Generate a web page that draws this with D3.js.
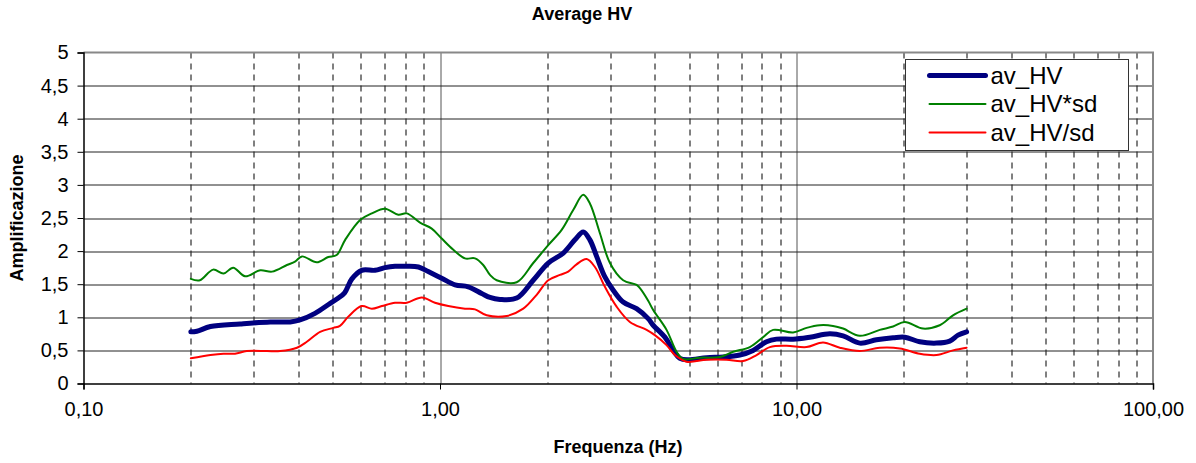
<!DOCTYPE html>
<html>
<head>
<meta charset="utf-8">
<script src="https://cdn.jsdelivr.net/npm/d3@7"></script>
<style>
  body { margin: 0; background: #fff; }
  svg { display: block; font-family: Arial, "Liberation Sans", sans-serif; }
</style>
</head>
<body>
<svg id="chart" width="1196" height="463"></svg>
<script>
// data
var seriesNames = ["av_HV", "av_HV*sd", "av_HV/sd"];
var seriesColors = ["#000080", "#008000", "#ff0000"];

var hvFreq = [0.200,0.208,0.227,0.275,0.334,0.380,0.405,0.446,0.492,0.515,0.540,0.566,0.603,0.657,0.701,0.748,0.798,0.870,0.927,1.011,1.102,1.200,1.309,1.381,1.473,1.641,1.826,2.012,2.217,2.390,2.522,2.633,2.750,2.901,3.061,3.264,3.560,3.837,3.963,4.274,4.510,4.709,4.967,5.595,6.227,6.934,7.556,8.240,8.788,9.783,10.90,12.40,13.51,15.05,16.76,18.66,20.12,22.17,24.69,26.90,28.39,30.0];
var hvVal  = [0.78,0.79,0.86,0.90,0.93,0.93,0.96,1.06,1.21,1.28,1.37,1.58,1.71,1.71,1.75,1.77,1.77,1.76,1.69,1.59,1.49,1.46,1.36,1.30,1.27,1.29,1.56,1.82,1.97,2.17,2.29,2.17,1.92,1.61,1.41,1.23,1.13,0.98,0.88,0.70,0.50,0.38,0.36,0.39,0.40,0.43,0.50,0.63,0.67,0.67,0.70,0.75,0.72,0.61,0.66,0.69,0.70,0.63,0.61,0.64,0.73,0.78];

var hvSdFreq = [0.200,0.212,0.231,0.247,0.263,0.284,0.313,0.338,0.372,0.392,0.410,0.451,0.486,0.513,0.542,0.597,0.644,0.701,0.764,0.807,0.879,0.948,1.011,1.090,1.175,1.254,1.322,1.381,1.442,1.641,1.826,2.012,2.194,2.364,2.522,2.633,2.809,2.997,3.264,3.560,3.637,3.837,3.963,4.320,4.609,4.810,5.358,6.095,6.643,7.397,8.062,8.601,9.783,10.67,11.62,12.66,13.51,15.05,17.12,18.66,20.12,22.64,25.22,27.48,30.0];
var hvSdVal  = [1.58,1.56,1.72,1.66,1.75,1.62,1.71,1.69,1.79,1.84,1.92,1.83,1.91,1.94,2.17,2.47,2.57,2.64,2.55,2.57,2.43,2.34,2.19,2.02,1.89,1.89,1.79,1.64,1.56,1.53,1.82,2.09,2.32,2.62,2.85,2.72,2.27,1.82,1.56,1.49,1.44,1.25,1.11,0.81,0.48,0.37,0.39,0.40,0.48,0.55,0.70,0.81,0.77,0.84,0.88,0.87,0.83,0.72,0.81,0.86,0.93,0.83,0.88,1.03,1.13];

var hvDivFreq = [0.200,0.227,0.247,0.266,0.287,0.327,0.356,0.397,0.423,0.461,0.502,0.524,0.553,0.603,0.644,0.687,0.748,0.807,0.889,0.968,1.055,1.175,1.254,1.352,1.538,1.712,1.867,2.012,2.170,2.289,2.416,2.578,2.720,2.901,3.129,3.409,3.798,4.006,4.320,4.560,4.915,5.595,6.364,7.084,7.726,8.417,9.376,10.67,11.87,13.23,15.05,17.12,19.49,22.17,24.69,27.48,30.0];
var hvDivVal  = [0.38,0.43,0.45,0.45,0.49,0.49,0.49,0.54,0.63,0.78,0.84,0.87,1.01,1.17,1.13,1.17,1.22,1.22,1.30,1.22,1.17,1.13,1.12,1.03,1.02,1.13,1.34,1.56,1.64,1.69,1.80,1.88,1.76,1.46,1.16,0.93,0.81,0.73,0.58,0.43,0.33,0.36,0.36,0.34,0.43,0.55,0.57,0.55,0.62,0.54,0.49,0.54,0.53,0.45,0.43,0.50,0.54];

var xMajorTicks = [0.1, 1, 10, 100];
var yTicks = [0, 0.5, 1, 1.5, 2, 2.5, 3, 3.5, 4, 4.5, 5];

var margin = {top: 52.5, right: 43, bottom: 79.5, left: 83.5};
var width = 1196 - margin.left - margin.right,
    height = 463 - margin.top - margin.bottom;

var svg = d3.select("#chart");
var g = svg.append("g").attr("transform", "translate(" + margin.left + "," + margin.top + ")");

var x = d3.scaleLog().domain([0.1, 100]).range([0, width]);
var y = d3.scaleLinear().domain([0, 5]).range([height, 0]);

var it = d3.formatLocale({decimal: ",", thousands: ".", grouping: [3], currency: ["", "€"]});
var fmtX = it.format(".2f");
var fmtY = function(d) { return String(d).replace(".", ","); };

// minor dashed verticals
var minor = [];
[0.1, 1, 10].forEach(function(dec) {
  for (var k = 2; k <= 9; k++) minor.push(dec * k);
});
g.selectAll(".minor").data(minor).enter().append("line")
  .attr("x1", function(d) { return Math.round(x(d)) + 0.5; })
  .attr("x2", function(d) { return Math.round(x(d)) + 0.5; })
  .attr("y1", 0).attr("y2", height)
  .attr("stroke", "#000").attr("stroke-width", 1)
  .attr("stroke-dasharray", "6,5");

// major verticals at 1 and 10
g.selectAll(".major").data([1, 10]).enter().append("line")
  .attr("x1", function(d) { return Math.round(x(d)) + 0.5; })
  .attr("x2", function(d) { return Math.round(x(d)) + 0.5; })
  .attr("y1", 0).attr("y2", height)
  .attr("stroke", "#555").attr("stroke-width", 1);

// horizontal grid
g.selectAll(".hgrid").data(yTicks.filter(function(d) { return d > 0 && d < 5; })).enter().append("line")
  .attr("x1", 0).attr("x2", width)
  .attr("y1", function(d) { return Math.round(y(d)) + 0.5; })
  .attr("y2", function(d) { return Math.round(y(d)) + 0.5; })
  .attr("stroke", "#222").attr("stroke-width", 1);

// top and right border
g.append("path")
  .attr("d", "M0,0H" + width + "V" + height)
  .attr("fill", "none").attr("stroke", "#888").attr("stroke-width", 2);

// y axis
var yAxis = g.append("g")
  .call(d3.axisLeft(y).tickValues(yTicks).tickFormat(fmtY).tickSize(6).tickPadding(9));
yAxis.select(".domain").attr("stroke", "#000").attr("stroke-width", 1.5);
yAxis.selectAll("text").attr("font-size", 20).attr("fill", "#000")
  .attr("font-family", "Arial, 'Liberation Sans', sans-serif");

// x axis
var xAxis = g.append("g").attr("transform", "translate(0," + height + ")")
  .call(d3.axisBottom(x).tickValues(xMajorTicks).tickFormat(fmtX).tickSize(6).tickPadding(12));
xAxis.select(".domain").attr("stroke", "#000").attr("stroke-width", 1.5);
xAxis.selectAll("text").attr("font-size", 20).attr("fill", "#000")
  .attr("font-family", "Arial, 'Liberation Sans', sans-serif");

// series
var series = [
  {freq: hvFreq, val: hvVal, w: 5},
  {freq: hvSdFreq, val: hvSdVal, w: 2},
  {freq: hvDivFreq, val: hvDivVal, w: 2}
];
var line = d3.line()
  .x(function(d) { return x(d[0]); })
  .y(function(d) { return y(d[1]); })
  .curve(d3.curveCatmullRom.alpha(0.5));

series.forEach(function(s, i) {
  var pts = s.freq.map(function(f, j) { return [f, s.val[j]]; });
  g.append("path")
    .attr("d", line(pts))
    .attr("fill", "none")
    .attr("stroke", seriesColors[i])
    .attr("stroke-width", s.w)
    .attr("stroke-linejoin", "round")
    .attr("stroke-linecap", "round");
});

// legend
var leg = svg.append("g").attr("transform", "translate(905.5,59.5)");
leg.append("rect").attr("width", 223).attr("height", 91)
  .attr("fill", "#fff").attr("stroke", "#333").attr("stroke-width", 1);
seriesNames.forEach(function(name, i) {
  var cy = 16 + i * 28.5;
  leg.append("line").attr("x1", 24).attr("x2", 80).attr("y1", cy).attr("y2", cy)
    .attr("stroke", seriesColors[i]).attr("stroke-width", series[i].w)
    .attr("stroke-linecap", "round");
  leg.append("text").attr("x", 85).attr("y", cy).attr("dy", "0.35em")
    .attr("font-size", 24).attr("fill", "#000").text(name);
});

// titles
svg.append("text").attr("x", 582).attr("y", 20).attr("text-anchor", "middle")
  .attr("font-size", 18).attr("font-weight", "bold").text("Average HV");
svg.append("text").attr("x", 618).attr("y", 453).attr("text-anchor", "middle")
  .attr("font-size", 18).attr("font-weight", "bold").text("Frequenza (Hz)");
svg.append("text").attr("transform", "translate(23,218) rotate(-90)").attr("text-anchor", "middle")
  .attr("font-size", 18).attr("font-weight", "bold").text("Amplificazione");
</script>
</body>
</html>
